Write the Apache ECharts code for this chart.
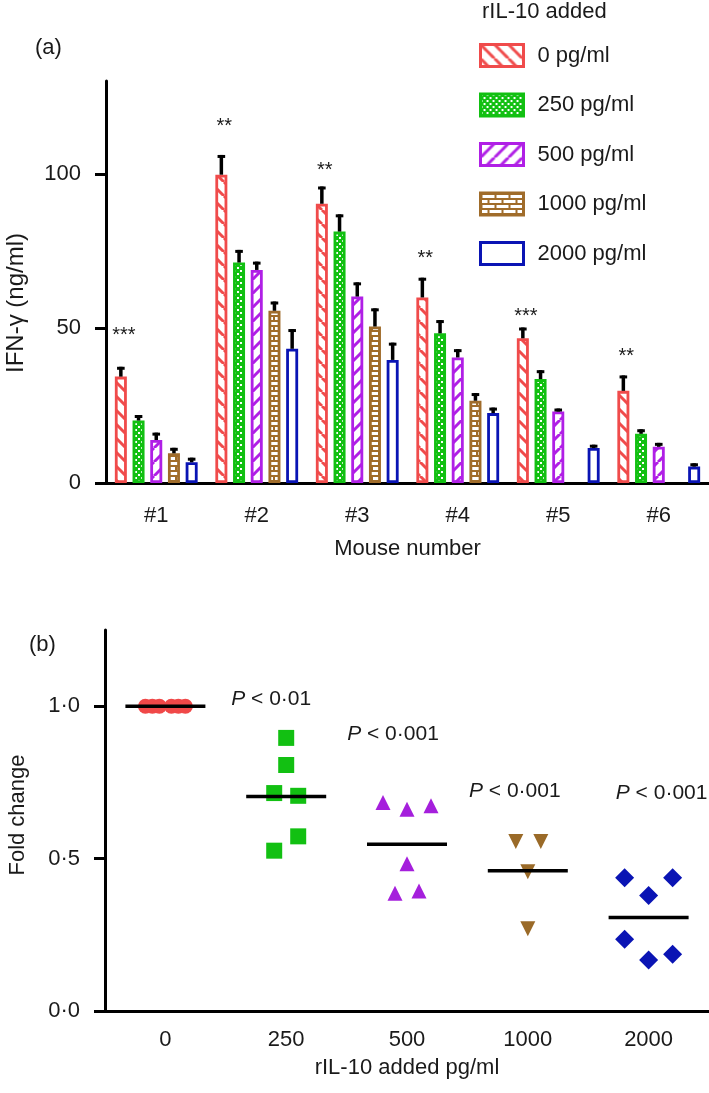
<!DOCTYPE html>
<html>
<head>
<meta charset="utf-8">
<script src="https://cdn.jsdelivr.net/npm/echarts@6/dist/echarts.min.js"></script>
<style>
html,body{margin:0;padding:0;background:#fff;}
#chart{width:709px;height:1093px;}
</style>
</head>
<body>
<div id="chart"></div>
<script>
// ---------- DATA: panel (a) ----------
const CATS_A = ['#1', '#2', '#3', '#4', '#5', '#6'];
const SERIES_NAMES = ['0 pg/ml', '250 pg/ml', '500 pg/ml', '1000 pg/ml', '2000 pg/ml'];
const V0    = [34.4, 99.7, 90.3, 60.0, 46.8, 29.8];
const V250  = [20.2, 71.3, 81.3, 48.4, 33.6, 15.9];
const V500  = [13.9, 68.9, 60.3, 40.6, 23.1, 11.7];
const V1000 = [9.6, 55.7, 50.6, 26.6, null, null];
const V2000 = [6.7, 43.4, 39.8, 22.6, 11.3, 5.3];
const E0    = [2.7, 5.9, 5.1, 5.9, 3.0, 4.5];
const E250  = [1.3, 3.6, 5.1, 3.8, 2.4, 1.0];
const E500  = [1.9, 2.2, 4.1, 2.2, 0.5, 0.8];
const E1000 = [1.3, 2.5, 5.4, 2.0, null, null];
const E2000 = [1.0, 5.9, 5.1, 1.3, 0.6, 0.6];
const STARS = ['***', '**', '**', '**', '***', '**'];
const STAR_Y = [48.9, 116.5, 102.3, 74.0, 55.3, 42.1];
const Y_TICKS_A = [0, 50, 100];

// ---------- DATA: panel (b) ----------
const CATS_B = ['0', '250', '500', '1000', '2000'];
const FOLD_0    = [1.0, 1.0, 1.0, 1.0, 1.0, 1.0];
const FOLD_250  = [0.896, 0.807, 0.715, 0.706, 0.573, 0.526];
const FOLD_500  = [0.684, 0.662, 0.673, 0.483, 0.386, 0.394];
const FOLD_1000 = [0.556, 0.556, 0.457, 0.270];
const FOLD_2000 = [0.437, 0.437, 0.379, 0.235, 0.167, 0.186];
const MEANS = [1.0, 0.704, 0.547, 0.46, 0.307];
const P_TEXT = ['', 'P < 0·01', 'P < 0·001', 'P < 0·001', 'P < 0·001'];
const P_Y = [null, 1.023, 0.908, 0.722, 0.716];
const Y_TICKS_B = [0, 0.5, 1.0];

// ---------- STYLE ----------
const FONT = "'Liberation Sans', Arial, Helvetica, sans-serif";
const TXT = '#1a1a1a';
const COLORS = ['#f04b4b', '#12c012', '#b01fe6', '#a06c2a', '#0a14b4'];
const PT_COLORS = ['#f04848', '#12c012', '#a51fdc', '#9a6a28', '#0a14b4'];
const BAR_W = 12, BAR_GAP = 0.475, PITCH = BAR_W * (1 + BAR_GAP);
const JIT = [[-20, -13, -6, 6, 13, 20], [0, 0, -12, 12, 12, -12], [-24, 0, 24, 0, -12, 12], [-12, 13, 0, 0], [-24, 24, 0, -24, 0, 24]];
const P_DX = [0, -15, -14, -13, 13];

function pattern(kind, color) {
  const c = document.createElement('canvas');
  const ctx = c.getContext('2d');
  if (kind === 'back' || kind === 'fwd') {
    const P = 14; c.width = P; c.height = P;
    ctx.fillStyle = '#fff'; ctx.fillRect(0, 0, P, P);
    ctx.strokeStyle = color; ctx.lineWidth = 3;
    for (const k of [-P, 0, P]) {
      ctx.beginPath();
      if (kind === 'back') { ctx.moveTo(k, 0); ctx.lineTo(k + P, P); }
      else { ctx.moveTo(k, P); ctx.lineTo(k + P, 0); }
      ctx.stroke();
    }
  } else if (kind === 'check') {
    c.width = 6; c.height = 6;
    ctx.fillStyle = color; ctx.fillRect(0, 0, 6, 6);
    ctx.fillStyle = '#fff'; ctx.fillRect(0, 0, 2, 2); ctx.fillRect(3, 3, 2, 2);
  } else if (kind === 'brick') {
    c.width = 14; c.height = 10;
    ctx.fillStyle = '#fff'; ctx.fillRect(0, 0, 14, 10);
    ctx.fillStyle = color;
    ctx.fillRect(0, 0, 14, 2); ctx.fillRect(0, 5, 14, 2);
    ctx.fillRect(0, 2, 2, 3); ctx.fillRect(7, 7, 2, 3);
  } else {
    c.width = 4; c.height = 4;
    ctx.fillStyle = '#fff'; ctx.fillRect(0, 0, 4, 4);
  }
  return { image: c, repeat: 'repeat' };
}
const KINDS = ['back', 'check', 'fwd', 'brick', 'none'];
const FILLS = KINDS.map((k, i) => pattern(k, COLORS[i]));

const VALUES = [V0, V250, V500, V1000, V2000];
const ERRS = [E0, E250, E500, E1000, E2000];
const FOLDS = [FOLD_0, FOLD_250, FOLD_500, FOLD_1000, FOLD_2000];

const chart = echarts.init(document.getElementById('chart'), null, { renderer: 'canvas' });

const series = [];
// bars
SERIES_NAMES.forEach((name, s) => {
  series.push({
    name: name, type: 'bar', xAxisIndex: 0, yAxisIndex: 0,
    barWidth: BAR_W, barGap: (BAR_GAP * 100) + '%',
    data: VALUES[s].map(v => v == null ? '-' : v),
    itemStyle: { color: FILLS[s], borderColor: COLORS[s], borderWidth: 2.8 },
    emphasis: { disabled: true }, z: 2
  });
});
// error bars
SERIES_NAMES.forEach((name, s) => {
  series.push({
    name: name + ' err', type: 'custom', xAxisIndex: 0, yAxisIndex: 0, z: 4,
    data: CATS_A.map((c, i) => [i, VALUES[s][i] == null ? NaN : VALUES[s][i], ERRS[s][i] == null ? NaN : ERRS[s][i]]),
    renderItem: function (params, api) {
      const v = api.value(1), e = api.value(2);
      if (isNaN(v)) return null;
      const b = api.coord([api.value(0), v]);
      const t = api.coord([api.value(0), v + e]);
      const x = b[0] + (s - 2) * PITCH;
      return { type: 'group', children: [
        { type: 'line', shape: { x1: x, y1: b[1], x2: x, y2: t[1] - 1.5 }, style: { stroke: '#000', lineWidth: 3.5 } },
        { type: 'line', shape: { x1: x - 3.8, y1: t[1], x2: x + 3.8, y2: t[1] }, style: { stroke: '#000', lineWidth: 3 } }
      ] };
    },
    clip: false, silent: true
  });
});
// significance stars
series.push({
  name: 'stars', type: 'custom', xAxisIndex: 0, yAxisIndex: 0, z: 5, silent: true,
  data: CATS_A.map((c, i) => [i, STAR_Y[i]]),
  renderItem: function (params, api) {
    const p = api.coord([api.value(0), api.value(1)]);
    return { type: 'text', x: p[0] - 2 * PITCH + 3, y: p[1] + 4,
      style: { text: STARS[params.dataIndex], fontSize: 20, fontFamily: FONT, fill: TXT, align: 'center', verticalAlign: 'middle' } };
  }
});

// panel b points
const SYMS = ['circle', 'rect', 'triangle', 'path://M0,0 L10,0 L5,10 Z', 'diamond'];
const SIZES = [15, 16, [15, 15], [15, 15], [19, 19]];
FOLDS.forEach((arr, g) => {
  series.push({
    name: 'fold ' + CATS_B[g], type: 'scatter', xAxisIndex: 1, yAxisIndex: 1,
    symbol: SYMS[g], symbolSize: SIZES[g], z: 3,
    itemStyle: { color: PT_COLORS[g], opacity: 1 },
    emphasis: { disabled: true },
    data: arr.map((v, j) => ({ value: [g, v], symbolOffset: [JIT[g][j], 0] }))
  });
});
// mean lines
series.push({
  name: 'mean', type: 'scatter', xAxisIndex: 1, yAxisIndex: 1, z: 6,
  symbol: 'rect', symbolSize: [80, 3.5], itemStyle: { color: '#000', opacity: 1 },
  emphasis: { disabled: true },
  data: MEANS.map((m, i) => [i, m])
});
// P labels
series.push({
  name: 'p', type: 'custom', xAxisIndex: 1, yAxisIndex: 1, z: 6, silent: true,
  data: P_Y.map((y, i) => [i, y == null ? NaN : y]),
  renderItem: function (params, api) {
    const i = params.dataIndex;
    if (!P_TEXT[i]) return null;
    const p = api.coord([api.value(0), api.value(1)]);
    const t = P_TEXT[i].replace(/^P/, '{i|P}');
    return { type: 'text', x: p[0] + P_DX[i], y: p[1],
      style: { text: t, fontSize: 21, fontFamily: FONT, fill: TXT, align: 'center', verticalAlign: 'middle',
        rich: { i: { fontStyle: 'italic', fontSize: 21, fontFamily: FONT, fill: TXT } } } };
  },
  clip: false
});

const axisLineStyle = { color: '#000', width: 3 };
const labelStyle = { color: TXT, fontSize: 22, fontFamily: FONT };
const dotFmt = v => Number(v).toFixed(1).replace('.', '·');

const option = {
  animation: false,
  backgroundColor: '#fff',
  textStyle: { fontFamily: FONT },
  grid: [
    { left: 106, right: 0, top: 81, height: 402 },
    { left: 105, right: 0, top: 630, height: 381 }
  ],
  legend: {
    orient: 'vertical', left: 479, top: 43, padding: 0, itemWidth: 43, itemHeight: 22, itemGap: 24.5,
    icon: 'rect', selectedMode: false,
    textStyle: { color: TXT, fontSize: 22, fontFamily: FONT, padding: [0, 0, 0, 9] },
    data: SERIES_NAMES.map((n, s) => ({ name: n, icon: 'rect', itemStyle: { color: FILLS[s], borderColor: COLORS[s], borderWidth: 3 } }))
  },
  xAxis: [
    { type: 'category', gridIndex: 0, data: CATS_A,
      name: 'Mouse number', nameLocation: 'middle', nameGap: 55, nameTextStyle: labelStyle,
      axisLine: { lineStyle: axisLineStyle }, axisTick: { alignWithLabel: true, length: 11, lineStyle: { color: '#000', width: 3 } },
      axisLabel: Object.assign({ margin: 22 }, labelStyle), splitLine: { show: false } },
    { type: 'category', gridIndex: 1, data: CATS_B,
      name: 'rIL-10 added pg/ml', nameLocation: 'middle', nameGap: 46, nameTextStyle: labelStyle,
      axisLine: { lineStyle: axisLineStyle }, axisTick: { alignWithLabel: true, length: 11, lineStyle: { color: '#000', width: 3 } },
      axisLabel: Object.assign({ margin: 18 }, labelStyle), splitLine: { show: false } }
  ],
  yAxis: [
    { type: 'value', gridIndex: 0, min: 0, max: 130, interval: 50,
      axisLine: { show: true, lineStyle: axisLineStyle },
      axisTick: { show: true, length: 11, lineStyle: { color: '#000', width: 3 }, customValues: Y_TICKS_A },
      axisLabel: Object.assign({ margin: 25, customValues: Y_TICKS_A }, labelStyle), splitLine: { show: false } },
    { type: 'value', gridIndex: 1, min: 0, max: 1.25, interval: 0.25,
      axisLine: { show: true, lineStyle: axisLineStyle },
      axisTick: { show: true, length: 11, lineStyle: { color: '#000', width: 3 }, customValues: Y_TICKS_B },
      axisLabel: Object.assign({ margin: 25, customValues: Y_TICKS_B, formatter: dotFmt }, labelStyle), splitLine: { show: false } }
  ],
  graphic: [
    { type: 'text', left: 35, top: 37, style: { text: '(a)', fontSize: 22, fontFamily: FONT, fill: TXT } },
    { type: 'text', left: 29, top: 634, style: { text: '(b)', fontSize: 22, fontFamily: FONT, fill: TXT } },
    { type: 'text', left: 482, top: 1, style: { text: 'rIL-10 added', fontSize: 22, fontFamily: FONT, fill: TXT } },
    { type: 'text', x: 16, y: 303, rotation: Math.PI / 2, style: { text: 'IFN-γ (ng/ml)', fontSize: 24, fontFamily: FONT, fill: TXT, align: 'center', verticalAlign: 'middle' } },
    { type: 'text', x: 18, y: 815, rotation: Math.PI / 2, style: { text: 'Fold change', fontSize: 22, fontFamily: FONT, fill: TXT, align: 'center', verticalAlign: 'middle' } }
  ],
  series: series
};
chart.setOption(option);
</script>
</body>
</html>
